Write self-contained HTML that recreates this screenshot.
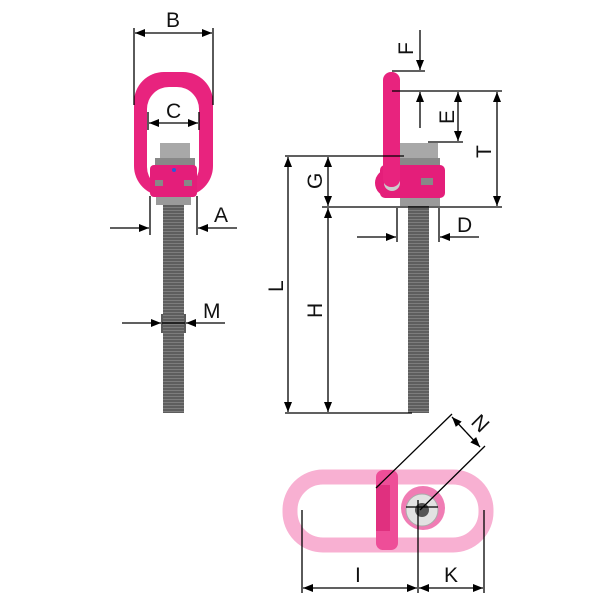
<!DOCTYPE html>
<html><head><meta charset="utf-8"><style>html,body{margin:0;padding:0;background:#fff}svg{display:block}text{font-family:"Liberation Sans",sans-serif;font-size:21px;fill:#111}</style></head>
<body>
<svg width="600" height="600" viewBox="0 0 600 600" xmlns="http://www.w3.org/2000/svg">
<defs>
<marker id="a" markerWidth="10" markerHeight="8" refX="10" refY="4" orient="auto" markerUnits="userSpaceOnUse"><path d="M0,0 L10,4 L0,8z" fill="#000"/></marker>
<pattern id="th" width="4" height="3" patternUnits="userSpaceOnUse"><rect width="4" height="3" fill="#5e5e5e"/><rect width="4" height="1" fill="#7d7d7d"/></pattern>
</defs>
<!-- LEFT product -->
<rect x="163" y="203" width="21" height="210" fill="url(#th)"/>
<rect x="134" y="72" width="79" height="124" rx="30" fill="#e8237e"/>
<rect x="147" y="87" width="52" height="102" rx="22" fill="#fff"/>
<rect x="156" y="195" width="35" height="10" fill="#9a9a9a"/>
<rect x="160" y="143" width="30" height="16" fill="#a8a8a8"/>
<rect x="155" y="158" width="40" height="8" fill="#888"/>
<rect x="150" y="165" width="47" height="32" rx="4" fill="#e41e7a"/>
<rect x="155" y="180" width="8" height="6" fill="#888"/><rect x="184" y="180" width="8" height="6" fill="#888"/>
<circle cx="174" cy="170" r="2" fill="#2a5bd7"/>
<g stroke="#000" stroke-width="1.3" fill="none">
<line x1="134" y1="28" x2="134" y2="105"/><line x1="213" y1="28" x2="213" y2="105"/>
<line x1="173" y1="33" x2="135" y2="33" marker-end="url(#a)"/><line x1="173" y1="33" x2="212" y2="33" marker-end="url(#a)"/>
<line x1="148" y1="112" x2="148" y2="130"/><line x1="199" y1="112" x2="199" y2="130"/>
<line x1="173" y1="123" x2="149" y2="123" marker-end="url(#a)"/><line x1="173" y1="123" x2="198" y2="123" marker-end="url(#a)"/>
<line x1="150" y1="196" x2="150" y2="235"/><line x1="197" y1="196" x2="197" y2="235"/>
<line x1="110" y1="228" x2="149" y2="228" marker-end="url(#a)"/><line x1="237" y1="228" x2="198" y2="228" marker-end="url(#a)"/>
<line x1="162" y1="314" x2="162" y2="333"/><line x1="185" y1="314" x2="185" y2="333"/>
<line x1="162" y1="323" x2="185" y2="323"/>
<line x1="122" y1="323" x2="161" y2="323" marker-end="url(#a)"/><line x1="225" y1="323" x2="186" y2="323" marker-end="url(#a)"/>
</g>
<text x="166" y="27">B</text><text x="166" y="118">C</text><text x="214" y="222">A</text><text x="203" y="318">M</text>
<!-- RIGHT product -->
<rect x="408" y="203" width="21" height="210" fill="url(#th)"/>
<rect x="400" y="196" width="40" height="10" fill="#9a9a9a"/>
<rect x="400" y="143" width="38" height="16" fill="#a8a8a8"/>
<rect x="398" y="158" width="42" height="8" fill="#888"/>
<rect x="380" y="165" width="65" height="33" rx="5" fill="#e41e7a"/>
<rect x="421" y="178" width="12" height="7" fill="#888"/>
<circle cx="389" cy="183" r="14" fill="#e41e7a"/><circle cx="392" cy="183" r="8" fill="#ccc"/>
<rect x="383" y="72" width="17" height="115" rx="8" fill="#e8237e"/>
<g stroke="#000" stroke-width="1.3" fill="none">
<line x1="285" y1="156" x2="404" y2="156"/>
<line x1="322" y1="207" x2="502" y2="207"/>
<line x1="285" y1="413" x2="412" y2="413"/>
<line x1="288" y1="284" x2="288" y2="157" marker-end="url(#a)"/><line x1="288" y1="284" x2="288" y2="412" marker-end="url(#a)"/>
<line x1="328" y1="181" x2="328" y2="157" marker-end="url(#a)"/><line x1="328" y1="181" x2="328" y2="206" marker-end="url(#a)"/>
<line x1="328" y1="310" x2="328" y2="208" marker-end="url(#a)"/><line x1="328" y1="310" x2="328" y2="412" marker-end="url(#a)"/>
<line x1="392" y1="91" x2="502" y2="91"/>
<line x1="497" y1="150" x2="497" y2="92" marker-end="url(#a)"/><line x1="497" y1="150" x2="497" y2="206" marker-end="url(#a)"/>
<line x1="428" y1="142" x2="463" y2="142"/>
<line x1="458" y1="116" x2="458" y2="92" marker-end="url(#a)"/><line x1="458" y1="116" x2="458" y2="141" marker-end="url(#a)"/>
<line x1="392" y1="71" x2="425" y2="71"/>
<line x1="420" y1="30" x2="420" y2="70" marker-end="url(#a)"/><line x1="420" y1="128" x2="420" y2="92" marker-end="url(#a)"/>
<line x1="397" y1="208" x2="397" y2="242"/><line x1="439" y1="208" x2="439" y2="242"/>
<line x1="357" y1="237" x2="396" y2="237" marker-end="url(#a)"/><line x1="479" y1="237" x2="440" y2="237" marker-end="url(#a)"/>
</g>
<text transform="translate(283,292) rotate(-90)">L</text>
<text transform="translate(322,318) rotate(-90)">H</text>
<text transform="translate(322,189) rotate(-90)">G</text>
<text transform="translate(491,158) rotate(-90)">T</text>
<text transform="translate(454,124) rotate(-90)">E</text>
<text transform="translate(413,55) rotate(-90)">F</text>
<text x="457" y="232">D</text>
<!-- BOTTOM view -->
<rect x="290" y="477" width="196" height="68" rx="33" fill="none" stroke="#f8b0d2" stroke-width="15"/>
<rect x="376" y="470" width="22" height="80" rx="7" fill="#ee4e98"/>
<rect x="376" y="485" width="14" height="46" fill="#e0307f"/>
<circle cx="423" cy="508" r="22" fill="#f07cb4"/>
<circle cx="422" cy="510" r="16" fill="#e2e2e2" stroke="#aaa"/>
<circle cx="422" cy="510" r="7" fill="#555"/>
<g stroke="#000" stroke-width="1.3" fill="none">
<line x1="302" y1="510" x2="302" y2="593"/><line x1="418" y1="500" x2="418" y2="593"/><line x1="484" y1="510" x2="484" y2="593"/>
<line x1="406" y1="507" x2="438" y2="507"/>
<line x1="360" y1="588" x2="303" y2="588" marker-end="url(#a)"/><line x1="360" y1="588" x2="417" y2="588" marker-end="url(#a)"/>
<line x1="451" y1="588" x2="419" y2="588" marker-end="url(#a)"/><line x1="451" y1="588" x2="483" y2="588" marker-end="url(#a)"/>
<line x1="376" y1="488" x2="452" y2="414"/>
<line x1="420" y1="510" x2="485" y2="446"/>
<line x1="466" y1="432" x2="452" y2="417" marker-end="url(#a)"/><line x1="466" y1="432" x2="480" y2="447" marker-end="url(#a)"/>
</g>
<text x="355" y="582">I</text><text x="444" y="582">K</text>
<text transform="translate(470,423) rotate(45)">N</text>
</svg>
</body></html>
